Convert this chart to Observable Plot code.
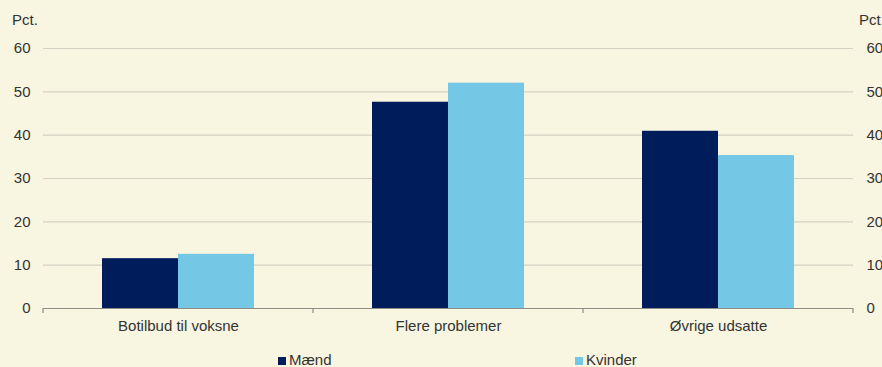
<!DOCTYPE html>
<html><head><meta charset="utf-8">
<script src="https://cdn.jsdelivr.net/npm/d3@7"></script>
<script src="https://cdn.jsdelivr.net/npm/@observablehq/plot@0.6"></script>
<style>
body{margin:0;background:#F8F6E0;}
#wrap{position:relative;width:882px;height:367px;background:#F8F6E0;font-family:"Liberation Sans",Arial,sans-serif;color:#333;font-size:15px;line-height:17px;overflow:hidden}
#chart{position:absolute;left:0;top:0}
.abs{position:absolute;white-space:nowrap}
.sw{display:inline-block;width:8px;height:8px;margin-right:3px;vertical-align:0px}
</style></head>
<body><div id="wrap"><div id="chart"></div>
<div class="abs" style="left:12px;top:11px">Pct.</div>
<div class="abs" style="left:859px;top:11px">Pct.</div>
<div id="legend"></div>
</div>
<script>
const categories = ["Botilbud til voksne", "Flere problemer", "Øvrige udsatte"];
const series = ["Mænd", "Kvinder"];
const maend = [11.5, 47.6, 40.9];
const kvinder = [12.5, 52.0, 35.3];
const yTicks = [0, 10, 20, 30, 40, 50, 60];
const colors = ["#011C5A", "#75C8E5"];

const data = categories.flatMap((c, i) => [
  {category: c, sex: series[0], value: maend[i]},
  {category: c, sex: series[1], value: kvinder[i]}
]);

const font = '"Liberation Sans", Arial, sans-serif';
const chart = Plot.plot({
  width: 882, height: 340,
  marginTop: 48, marginBottom: 32, marginLeft: 42, marginRight: 29,
  style: {background: "transparent", fontFamily: font, fontSize: "15px", color: "#333", overflow: "visible"},
  fx: {domain: categories, padding: 0, label: null, axis: "bottom", tickSize: 0, tickPadding: 12},
  x: {domain: series, paddingInner: 0, paddingOuter: 0.76, axis: null},
  y: {domain: [0, 60], axis: null},
  color: {domain: series, range: colors},
  marks: [
    Plot.ruleY(yTicks.filter(d => d > 0), {stroke: "#D3D1C2", strokeWidth: 1.2}),
    Plot.barY(data, {fx: "category", x: "sex", y: "value", fill: "sex"}),
    Plot.ruleY([0], {stroke: "#8E8E86", strokeWidth: 1.2}),
    Plot.axisY(yTicks, {anchor: "left", tickSize: 0, tickPadding: 13, label: null, fontSize: 15}),
    Plot.axisY(yTicks, {anchor: "right", tickSize: 0, tickPadding: 13, label: null, fontSize: 15})
  ]
});
document.getElementById("chart").append(chart);

// category boundary ticks on the baseline, from the chart's own scales
const fx = chart.scale("fx");
const y0 = chart.scale("y").apply(0);
const edges = categories.map(c => fx.apply(c)).concat([fx.apply(categories[categories.length - 1]) + fx.bandwidth]);
d3.select(chart).append("g").selectAll("line").data(edges).join("line")
  .attr("x1", d => d).attr("x2", d => d).attr("y1", y0).attr("y2", y0 + 5)
  .attr("stroke", "#8E8E86").attr("stroke-width", 1.2);

// legend
const legendLeft = [278, 575];
const leg = document.getElementById("legend");
series.forEach((s, i) => {
  const d = document.createElement("div");
  d.className = "abs";
  d.style.left = legendLeft[i] + "px";
  d.style.top = "351px";
  d.innerHTML = `<span class="sw" style="background:${colors[i]}"></span>${s}`;
  leg.append(d);
});
</script>
</body></html>
